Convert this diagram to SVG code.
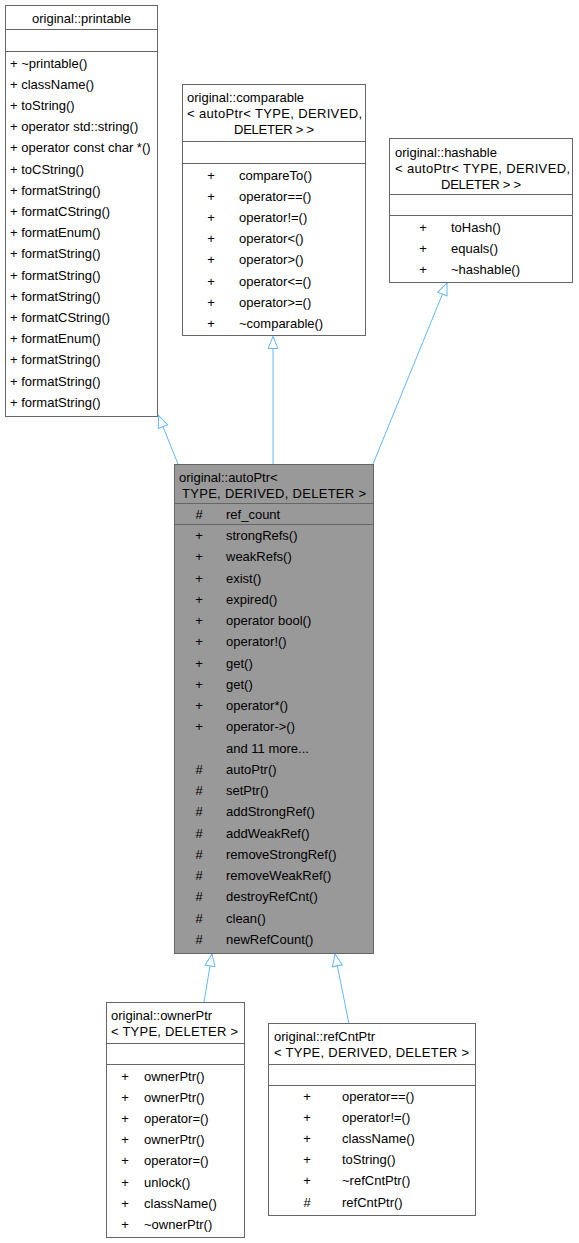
<svg xmlns="http://www.w3.org/2000/svg" width="579" height="1243" viewBox="0 0 579 1243">
<style>
text{font-family:"Liberation Sans",Arial,sans-serif;font-size:13px;fill:#000}
.box{fill:#fff;stroke:#666;stroke-width:1}
.cur{fill:#999;stroke:#666;stroke-width:1}
.sep{stroke:#666;stroke-width:1}
.c{text-anchor:middle}
.edge{fill:none;stroke:#63b8ff;stroke-width:1}
</style>
<defs>
<marker id="tri" markerUnits="userSpaceOnUse" markerWidth="14" markerHeight="12" viewBox="0 0 14 12" refX="13" refY="6" orient="auto">
<path d="M1,1 L13,6 L1,11 Z" fill="#fff" stroke="#63b8ff" stroke-width="1"/>
</marker>
</defs>
<rect width="579" height="1243" fill="#fff"/>
<g id="connectors">
<path class="edge" d="M178,464 L158.5,415.5" marker-end="url(#tri)"/>
<path class="edge" d="M273,464 L273,336.5" marker-end="url(#tri)"/>
<path class="edge" d="M373,464 L447,283" marker-end="url(#tri)"/>
<path class="edge" d="M204,1002 L212,954" marker-end="url(#tri)"/>
<path class="edge" d="M349,1024 L335,954" marker-end="url(#tri)"/>
</g>
<g id="printable">
<rect class="box" x="5.5" y="5.5" width="152" height="411"/>
<line class="sep" x1="5.5" y1="29.5" x2="157.5" y2="29.5"/>
<line class="sep" x1="5.5" y1="51.5" x2="157.5" y2="51.5"/>
<text class="c" x="81.5" y="22.5">original::printable</text>
<text x="10" y="67.5">+ ~printable()</text>
<text x="10" y="88.7">+ className()</text>
<text x="10" y="109.9">+ toString()</text>
<text x="10" y="131.1">+ operator std::string()</text>
<text x="10" y="152.3">+ operator const char *()</text>
<text x="10" y="173.5">+ toCString()</text>
<text x="10" y="194.7">+ formatString()</text>
<text x="10" y="215.9">+ formatCString()</text>
<text x="10" y="237.1">+ formatEnum()</text>
<text x="10" y="258.3">+ formatString()</text>
<text x="10" y="279.5">+ formatString()</text>
<text x="10" y="300.7">+ formatString()</text>
<text x="10" y="321.9">+ formatCString()</text>
<text x="10" y="343.1">+ formatEnum()</text>
<text x="10" y="364.3">+ formatString()</text>
<text x="10" y="385.5">+ formatString()</text>
<text x="10" y="406.7">+ formatString()</text>
</g>
<g id="comparable">
<rect class="box" x="182.5" y="84.5" width="183" height="251"/>
<line class="sep" x1="182.5" y1="141.5" x2="365.5" y2="141.5"/>
<line class="sep" x1="182.5" y1="163.5" x2="365.5" y2="163.5"/>
<text x="187" y="101.5">original::comparable</text>
<text x="187" y="117.5" textLength="175" lengthAdjust="spacing">&lt; autoPtr&lt; TYPE, DERIVED,</text>
<text class="c" x="274" y="133.5" textLength="80" lengthAdjust="spacing">DELETER &gt; &gt;</text>
<g class="c"><text x="211" y="179.5">+</text><text x="211" y="200.7">+</text><text x="211" y="221.9">+</text><text x="211" y="243.1">+</text><text x="211" y="264.3">+</text><text x="211" y="285.5">+</text><text x="211" y="306.7">+</text><text x="211" y="327.9">+</text></g>
<text x="239" y="179.5">compareTo()</text>
<text x="239" y="200.7">operator==()</text>
<text x="239" y="221.9">operator!=()</text>
<text x="239" y="243.1">operator&lt;()</text>
<text x="239" y="264.3">operator&gt;()</text>
<text x="239" y="285.5">operator&lt;=()</text>
<text x="239" y="306.7">operator&gt;=()</text>
<text x="239" y="327.9">~comparable()</text>
</g>
<g id="hashable">
<rect class="box" x="389.5" y="138.5" width="183" height="144"/>
<line class="sep" x1="389.5" y1="194.5" x2="572.5" y2="194.5"/>
<line class="sep" x1="389.5" y1="215.5" x2="572.5" y2="215.5"/>
<text x="395" y="156.5">original::hashable</text>
<text x="395" y="172.5" textLength="175" lengthAdjust="spacing">&lt; autoPtr&lt; TYPE, DERIVED,</text>
<text class="c" x="481" y="188.5" textLength="80" lengthAdjust="spacing">DELETER &gt; &gt;</text>
<g class="c"><text x="423" y="231.5">+</text><text x="423" y="252.7">+</text><text x="423" y="273.9">+</text></g>
<text x="451" y="231.5">toHash()</text>
<text x="451" y="252.7">equals()</text>
<text x="451" y="273.9">~hashable()</text>
</g>
<g id="autoPtr">
<rect class="cur" x="174.5" y="464.5" width="199" height="489"/>
<line class="sep" x1="174.5" y1="503.5" x2="373.5" y2="503.5"/>
<line class="sep" x1="174.5" y1="524.5" x2="373.5" y2="524.5"/>
<text x="179" y="481.5">original::autoPtr&lt;</text>
<text x="182" y="497.5" textLength="184" lengthAdjust="spacing">TYPE, DERIVED, DELETER &gt;</text>
<g class="c">
<text x="199" y="518.5">#</text>
<text x="199" y="540">+</text><text x="199" y="561.25">+</text><text x="199" y="582.5">+</text><text x="199" y="603.75">+</text><text x="199" y="625">+</text><text x="199" y="646.25">+</text><text x="199" y="667.5">+</text><text x="199" y="688.75">+</text><text x="199" y="710">+</text><text x="199" y="731.25">+</text>
<text x="199" y="773.75">#</text><text x="199" y="795">#</text><text x="199" y="816.25">#</text><text x="199" y="837.5">#</text><text x="199" y="858.75">#</text><text x="199" y="880">#</text><text x="199" y="901.25">#</text><text x="199" y="922.5">#</text><text x="199" y="943.75">#</text>
</g>
<text x="226" y="518.5">ref_count</text>
<text x="226" y="540">strongRefs()</text>
<text x="226" y="561.25">weakRefs()</text>
<text x="226" y="582.5">exist()</text>
<text x="226" y="603.75">expired()</text>
<text x="226" y="625">operator bool()</text>
<text x="226" y="646.25">operator!()</text>
<text x="226" y="667.5">get()</text>
<text x="226" y="688.75">get()</text>
<text x="226" y="710">operator*()</text>
<text x="226" y="731.25">operator-&gt;()</text>
<text x="226" y="752.5">and 11 more...</text>
<text x="226" y="773.75">autoPtr()</text>
<text x="226" y="795">setPtr()</text>
<text x="226" y="816.25">addStrongRef()</text>
<text x="226" y="837.5">addWeakRef()</text>
<text x="226" y="858.75">removeStrongRef()</text>
<text x="226" y="880">removeWeakRef()</text>
<text x="226" y="901.25">destroyRefCnt()</text>
<text x="226" y="922.5">clean()</text>
<text x="226" y="943.75">newRefCount()</text>
</g>
<g id="ownerPtr">
<rect class="box" x="106.5" y="1002.5" width="138" height="235"/>
<line class="sep" x1="106.5" y1="1043.5" x2="244.5" y2="1043.5"/>
<line class="sep" x1="106.5" y1="1064.5" x2="244.5" y2="1064.5"/>
<text x="111" y="1020">original::ownerPtr</text>
<text x="111" y="1035.5" textLength="127" lengthAdjust="spacing">&lt; TYPE, DELETER &gt;</text>
<g class="c"><text x="125" y="1080.5">+</text><text x="125" y="1101.7">+</text><text x="125" y="1122.9">+</text><text x="125" y="1144.1">+</text><text x="125" y="1165.3">+</text><text x="125" y="1186.5">+</text><text x="125" y="1207.7">+</text><text x="125" y="1228.9">+</text></g>
<text x="144" y="1080.5">ownerPtr()</text>
<text x="144" y="1101.7">ownerPtr()</text>
<text x="144" y="1122.9">operator=()</text>
<text x="144" y="1144.1">ownerPtr()</text>
<text x="144" y="1165.3">operator=()</text>
<text x="144" y="1186.5">unlock()</text>
<text x="144" y="1207.7">className()</text>
<text x="144" y="1228.9">~ownerPtr()</text>
</g>
<g id="refCntPtr">
<rect class="box" x="268.5" y="1023.5" width="207" height="192"/>
<line class="sep" x1="268.5" y1="1064.5" x2="475.5" y2="1064.5"/>
<line class="sep" x1="268.5" y1="1085.5" x2="475.5" y2="1085.5"/>
<text x="274" y="1041">original::refCntPtr</text>
<text x="274" y="1056.5" textLength="195" lengthAdjust="spacing">&lt; TYPE, DERIVED, DELETER &gt;</text>
<g class="c"><text x="307" y="1100.5">+</text><text x="307" y="1121.7">+</text><text x="307" y="1142.9">+</text><text x="307" y="1164.1">+</text><text x="307" y="1185.3">+</text><text x="307" y="1206.5">#</text></g>
<text x="342" y="1100.5">operator==()</text>
<text x="342" y="1121.7">operator!=()</text>
<text x="342" y="1142.9">className()</text>
<text x="342" y="1164.1">toString()</text>
<text x="342" y="1185.3">~refCntPtr()</text>
<text x="342" y="1206.5">refCntPtr()</text>
</g>
</svg>
